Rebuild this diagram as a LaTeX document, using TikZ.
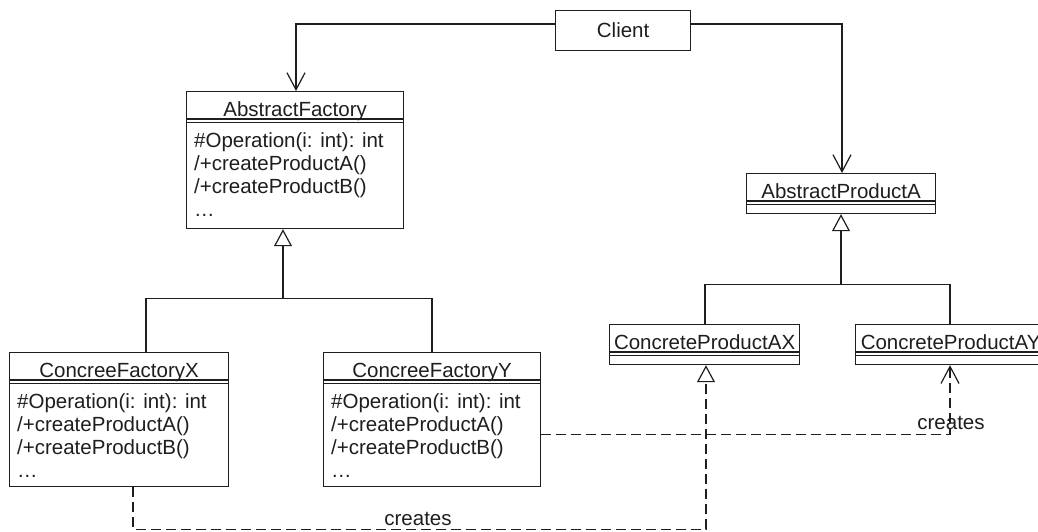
\documentclass[tikz,border=0pt]{standalone}
\usepackage{fontspec}
\setmainfont{Liberation Sans}
\usetikzlibrary{arrows.meta,calc}
\definecolor{ink}{HTML}{1E1E1E}
\tikzset{
  box/.style={draw=ink, line width=1.2pt, rectangle, inner sep=0pt, anchor=north west, fill=white},
  txt/.style={inner sep=0pt, text=ink, font=\fontsize{20.5}{23}\selectfont},
  sepline/.style={draw=ink, line width=1.1pt},
  conn/.style={draw=ink, line width=1.2pt},
  assoc/.style={conn, -{Straight Barb[length=17pt, width=18pt, line width=1.2pt]}},
  gen/.style={conn, -{Triangle[open, length=17pt, width=18pt, fill=white, line width=1.2pt]}},
  dashline/.style={conn, dash pattern=on 10pt off 5pt},
}
\newcommand{\classbox}[6]{%
  % #1 name, #2 x, #3 y, #4 width, #5 height, #6 title
  \node[box, minimum width=#4pt, minimum height=#5pt] (#1) at (#2,#3) {};
  \node[txt, anchor=base] (#1t) at ($(#1.north)+(0,25)$) {#6};
  \draw[sepline] ($(#1.north west)+(0,28)$) -- ($(#1.north east)+(0,28)$);
  \draw[sepline] ($(#1.north west)+(0,31.5)$) -- ($(#1.north east)+(0,31.5)$);
}
\newcommand{\factoryops}[1]{%
  \node[txt, anchor=base west] (#1a) at ($(#1.north west)+(8,56)$) {\#Operation(i: int): int};
  \node[txt, anchor=base west] (#1b) at ($(#1.north west)+(8,79)$) {/+createProductA()};
  \node[txt, anchor=base west] (#1c) at ($(#1.north west)+(8,102)$) {/+createProductB()};
  \node[txt, anchor=base west] (#1d) at ($(#1.north west)+(8,125)$) {…};
}
\begin{document}
\begin{tikzpicture}[x=1pt, y=-1pt]
\path[use as bounding box] (0,0) rectangle (1038,531);
\clip (0,0) rectangle (1038,531);
\fill[white] (0,0) rectangle (1038,531);

% Client
\node[box, minimum width=135pt, minimum height=40pt] (Client) at (555,10) {};
\node[txt] (Clientt) at (Client.center) {Client};

% classes
\classbox{AF}{186}{91}{217}{137}{AbstractFactory}
\factoryops{AF}
\classbox{APA}{746}{173}{189}{40}{AbstractProductA}
\classbox{AX}{609}{324}{190}{40}{ConcreteProductAX}
\classbox{AY}{855}{324}{190}{40}{ConcreteProductAY}
\classbox{CFX}{9}{352}{219}{134}{ConcreeFactoryX}
\factoryops{CFX}
\classbox{CFY}{323}{352}{217}{134}{ConcreeFactoryY}
\factoryops{CFY}

% associations from Client
\draw[assoc] ($(Client.north west)+(0,14)$) -| ($(AF.north west)+(110,0)$);
\draw[assoc] ($(Client.north east)+(0,14)$) -| ($(APA.north west)+(96,0)$);

% generalization: factories
\coordinate (b1) at ($(AF.south west)+(97,69)$);
\draw[conn] ($(CFX.north west)+(137,0)$) |- (b1) -| ($(CFY.north west)+(109,0)$);
\draw[gen] (b1) -- (b1 |- AF.south);

% generalization: products
\coordinate (b2) at ($(APA.south west)+(95,70)$);
\draw[conn] ($(AX.north west)+(96,0)$) |- (b2) -| ($(AY.north west)+(95,0)$);
\draw[gen] (b2) -- (b2 |- APA.south);

% creates (X)
\coordinate (d1) at ($(CFX.south west)+(124,42)$);
\draw[dashline] ($(CFX.south west)+(124,0)$) -- (d1) -| ($(AX.south west)+(97,0)$)
  [gen, dash pattern=on 10pt off 5pt];
\node[txt, anchor=base] (lab1) at (418,525) {creates};

% creates (Y)
\draw[assoc, dash pattern=on 10pt off 5pt] ($(CFY.south east)+(0,-53)$) -| ($(AY.south west)+(95,0)$);
\node[txt, anchor=base] (lab2) at (951,429) {creates};
\end{tikzpicture}
\end{document}
